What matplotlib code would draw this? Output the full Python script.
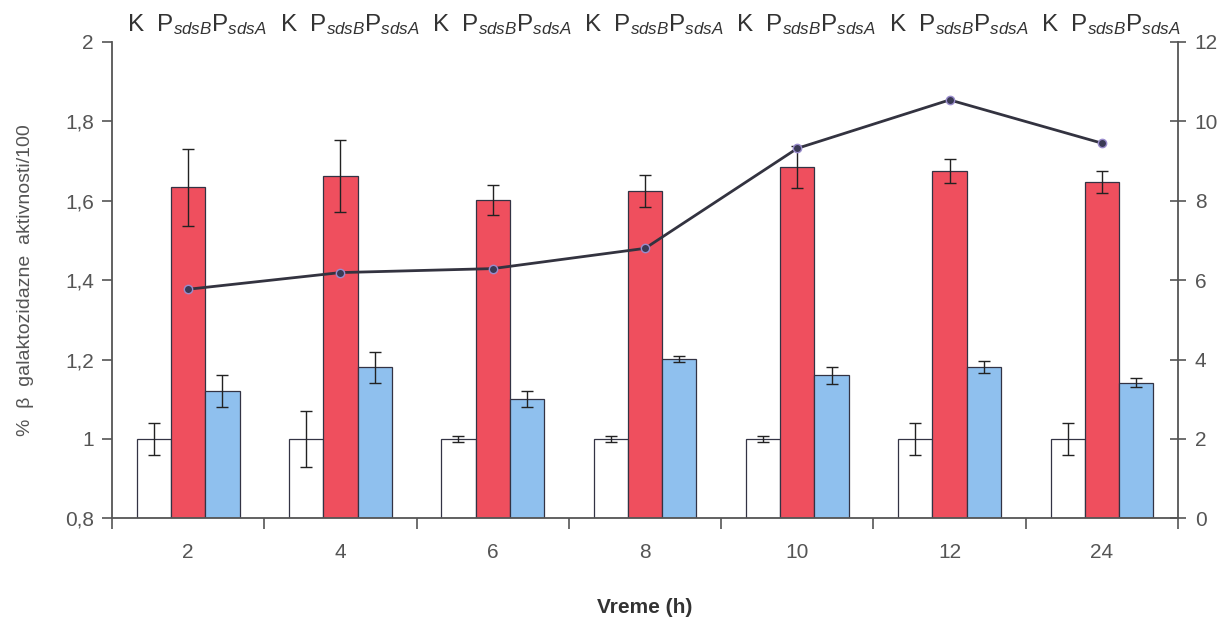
import numpy as np
import matplotlib
matplotlib.use("Agg")
import matplotlib.pyplot as plt
from matplotlib.ticker import FixedLocator, FuncFormatter

# ── Podaci ────────────────────────────────────────────────────────────────────
vreme = ["2", "4", "6", "8", "10", "12", "24"]

k_vals = [1.0, 1.0, 1.0, 1.0, 1.0, 1.0, 1.0]
k_err = [0.04, 0.07, 0.008, 0.008, 0.008, 0.04, 0.04]

sdsb_vals = [1.634, 1.662, 1.601, 1.625, 1.685, 1.674, 1.647]
sdsb_err = [0.097, 0.09, 0.038, 0.040, 0.052, 0.030, 0.027]

sdsa_vals = [1.121, 1.180, 1.100, 1.202, 1.160, 1.180, 1.142]
sdsa_err = [0.040, 0.040, 0.020, 0.008, 0.022, 0.015, 0.012]

linija = [5.77, 6.19, 6.29, 6.80, 9.32, 10.54, 9.45]

left_ticks = [0.8, 1.0, 1.2, 1.4, 1.6, 1.8, 2.0]
right_ticks = [0, 2, 4, 6, 8, 10, 12]

# ── Stil ──────────────────────────────────────────────────────────────────────
plt.rcParams["font.family"] = ["Liberation Sans", "DejaVu Sans"]
plt.rcParams["mathtext.fontset"] = "custom"
plt.rcParams["mathtext.rm"] = "Liberation Sans"
plt.rcParams["mathtext.it"] = "Liberation Sans:italic"

AX_COL = "#555555"
TXT_COL = "#555555"
RED = "#ef4f5e"
BLUE = "#8fc0ee"

fig = plt.figure(figsize=(12.31, 6.17), dpi=100)
ax = fig.add_axes([0.091, 0.160, 0.866, 0.772])

x = np.arange(len(vreme))
w = 0.225
bar_kw = dict(width=w, edgecolor="#333344", linewidth=0.9, zorder=2)
err_kw = dict(ecolor="#222222", elinewidth=1.0, capsize=4, capthick=1.0)

ax.bar(x - w, np.array(k_vals) - 0.8, bottom=0.8, color="white",
       yerr=k_err, error_kw=err_kw, **bar_kw)
ax.bar(x, np.array(sdsb_vals) - 0.8, bottom=0.8, color=RED,
       yerr=sdsb_err, error_kw=err_kw, **bar_kw)
ax.bar(x + w, np.array(sdsa_vals) - 0.8, bottom=0.8, color=BLUE,
       yerr=sdsa_err, error_kw=err_kw, **bar_kw)

ax.set_xlim(-0.5, len(vreme) - 0.5)
ax.set_ylim(0.8, 2.0)
ax.yaxis.set_major_locator(FixedLocator(left_ticks))
ax.yaxis.set_major_formatter(FuncFormatter(lambda v, p: f"{v:g}".replace(".", ",")))

# kategorije: oznake u sredini, crtice na granicama
ax.set_xticks(x)
ax.set_xticklabels(vreme)
ax.set_xticks(np.arange(len(vreme) + 1) - 0.5, minor=True)
ax.tick_params(axis="x", which="major", length=0, pad=18, labelsize=15, labelcolor=TXT_COL)
ax.tick_params(axis="x", which="minor", length=8, direction="out", color=AX_COL, width=1.2)
ax.tick_params(axis="y", length=7, direction="out", color=AX_COL, width=1.2,
               labelsize=15, labelcolor=TXT_COL, pad=6)

for side in ("left", "bottom"):
    ax.spines[side].set_color(AX_COL)
    ax.spines[side].set_linewidth(1.3)
ax.spines["top"].set_visible(False)
ax.spines["right"].set_visible(False)

ax.set_xlabel("Vreme (h)", fontsize=15, color="#333333", fontweight="bold", labelpad=26)
ax.set_ylabel("%  β  galaktozidazne  aktivnosti/100", fontsize=14, color=TXT_COL, labelpad=22)

# desna osa sa linijom
ax2 = ax.twinx()
ax2.plot(x, linija, color="#333340", lw=2.0, marker="o", ms=6,
         markerfacecolor="#3a3a55", markeredgecolor="#9a8ccc", markeredgewidth=1.0, zorder=3)
ax2.set_ylim(0, 12)
ax2.yaxis.set_major_locator(FixedLocator(right_ticks))
ax2.tick_params(axis="y", length=12, direction="inout", color=AX_COL, width=1.2,
                labelsize=15, labelcolor=TXT_COL, pad=6)
for side in ("top", "left", "bottom"):
    ax2.spines[side].set_visible(False)
ax2.spines["right"].set_color(AX_COL)
ax2.spines["right"].set_linewidth(1.3)

# natpisi iznad grupa
for xi in x:
    ax.text(xi - 0.40, 1.037, r"K  P$_{\mathit{sdsB}}$P$_{\mathit{sdsA}}$",
            transform=ax.get_xaxis_transform(), ha="left", va="center",
            fontsize=17.5, color="#333333", clip_on=False)

fig.savefig("out.png", dpi=100, facecolor="white")
